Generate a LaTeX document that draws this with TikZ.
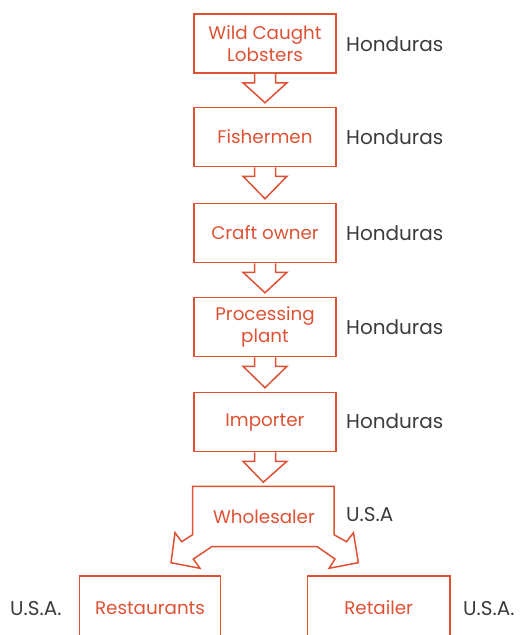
\documentclass[tikz,border=0pt]{standalone}
\usepackage{fontspec}
\setmainfont{Poppins}
\usetikzlibrary{calc}
\definecolor{org}{RGB}{222,82,52}
\definecolor{txt}{RGB}{60,60,60}
\tikzset{
  boxfont/.style={font=\fontsize{18.3}{21.7}\selectfont},
  box/.style={draw=org, line width=1.5pt, minimum width=142pt, minimum height=59pt, inner sep=0pt,
    text=org, boxfont, align=center},
  place/.style={anchor=west, inner sep=0pt, text=txt, font=\fontsize{20}{24}\selectfont},
  arr/.style={draw=org, line width=1.5pt, line join=miter, fill=white},
}
\newcommand\blockarr[2]{%
  \draw[arr] ($(#1.south)+(-10.5,0)$) -- ($(#1.south)+(-10.5,9)$) -- ($(#1.south)+(-22,9)$)
    -- ($(#2.north)+(0,-4)$) -- ($(#1.south)+(22,9)$) -- ($(#1.south)+(10.5,9)$) -- ($(#1.south)+(10.5,0)$);}
\begin{document}
\begin{tikzpicture}[x=1pt,y=-1pt]
\useasboundingbox (0,0) rectangle (521,635);
\node[box] (n1) at (265,43.5) {Wild Caught\\Lobsters};
\node[box] (n2) at (265,137) {Fishermen};
\node[box] (n3) at (265,233) {Craft owner};
\node[box] (n4) at (265,327) {Processing\\plant};
\node[box] (n5) at (265,422) {Importer};
\node[box, draw=none, minimum width=140pt, minimum height=47pt] (whole) at (263.3,510.5) {};
\node[box, minimum width=141.4pt, minimum height=64pt] (rest) at (150,608) {Restaurants};
\node[box, minimum width=142.7pt, minimum height=64pt] (ret) at (378.7,608) {Retailer};

\blockarr{n1}{n2}
\blockarr{n2}{n3}
\blockarr{n3}{n4}
\blockarr{n4}{n5}
\blockarr{n5}{whole}

\draw[arr] (whole.north west) -- (whole.south west) -- (181.7,541.7) -- (175,532.7) -- (171,562.7)
  -- (200,568.3) -- (193.3,559) -- (211.7,546.7) -- (317.3,546.7) -- (335,559) -- (329,568.3)
  -- (358.3,562.7) -- (353.5,532.7) -- (346.5,541.7) -- (whole.south east) -- (whole.north east) -- cycle;
\node[text=org, boxfont, inner sep=0pt] (wtext) at (264,517) {Wholesaler};

\node[place] (h1) at (346,44) {Honduras};
\node[place] (h2) at (346,137.5) {Honduras};
\node[place] (h3) at (346,233.5) {Honduras};
\node[place] (h4) at (346,327.5) {Honduras};
\node[place] (h5) at (346,421.5) {Honduras};
\node[place] (u1) at (346,515) {U.S.A};
\node[place] (u2) at (10,608.5) {U.S.A.};
\node[place] (u3) at (463,609) {U.S.A.};
\end{tikzpicture}
\end{document}
